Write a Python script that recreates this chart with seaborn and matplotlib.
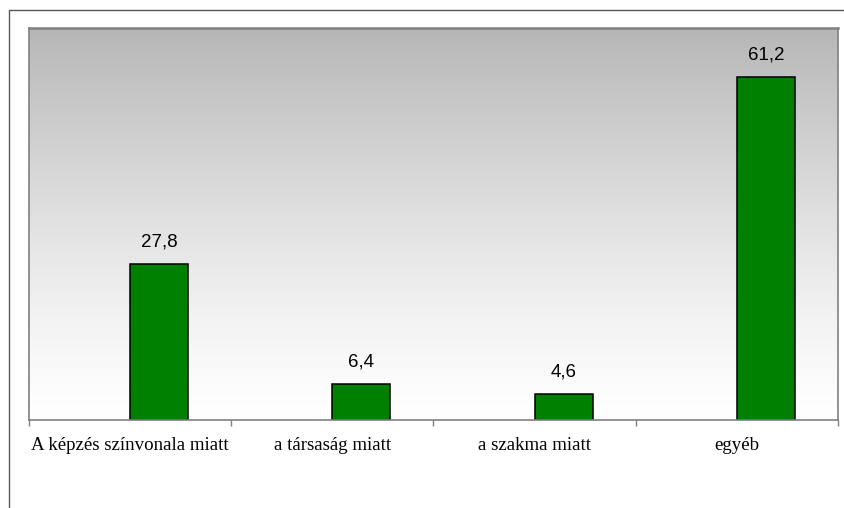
import numpy as np
import pandas as pd
import matplotlib
matplotlib.use("Agg")
import matplotlib.pyplot as plt
from matplotlib.lines import Line2D
import seaborn as sns

# Survey answers: reasons given (percent)
categories = ["A képzés színvonala miatt", "a társaság miatt", "a szakma miatt", "egyéb"]
values = [27.8, 6.4, 4.6, 61.2]
# the first series of the cluster is empty; only the second one carries data
series_names = ["1. sorozat", "2. sorozat"]
empty_series = [np.nan, np.nan, np.nan, np.nan]

df = pd.DataFrame({
    "kategoria": categories * 2,
    "ertek": empty_series + values,
    "sorozat": [series_names[0]] * 4 + [series_names[1]] * 4,
})

sns.set_theme(style="white")
plt.rcParams["font.family"] = ["Liberation Sans", "DejaVu Sans"]

W, H = 845, 508
fig = plt.figure(figsize=(W / 100, H / 100), dpi=100)
fig.patch.set_facecolor("white")

x0, x1, y0, y1 = 29, 838, 28, 420
ax = fig.add_axes([x0 / W, 1 - y1 / H, (x1 - x0) / W, (y1 - y0) / H])

sns.barplot(
    data=df, x="kategoria", y="ertek", hue="sorozat",
    order=categories, hue_order=series_names,
    palette=["#008000", "#008000"], saturation=1, width=0.574, dodge=True,
    edgecolor="black", linewidth=1.1, legend=False, ax=ax, zorder=3,
)

ax.set_xlim(-0.5, len(categories) - 0.5)
ax.set_ylim(0, 70)

# vertical gray-to-white background gradient
t = np.linspace(0, 1, 400)[:, None]  # 0 at bottom, 1 at top
shade = 1 - 0.285 * t ** 1.3
grad = np.dstack([shade, shade, shade])
ax.imshow(grad, origin="lower", aspect="auto",
          extent=[-0.5, len(categories) - 0.5, 0, 70], zorder=0,
          interpolation="bilinear")

# value labels above the data bars
for cont in ax.containers:
    heights = [p.get_height() for p in cont]
    if all(np.isnan(h) for h in heights):
        continue
    ax.bar_label(cont, labels=[f"{v:.1f}".replace(".", ",") for v in values],
                 padding=10, fontsize=13.5, color="black",
                 family=["Liberation Sans", "DejaVu Sans"])

# ticks at the category boundaries, labels centred in each category
ax.set_xticks(np.arange(-0.5, len(categories), 1.0))
ax.set_xticklabels([])
ax.set_xticks(np.arange(len(categories)), minor=True)
ax.set_xticklabels(categories, minor=True,
                   family=["Liberation Serif", "DejaVu Serif"], fontsize=13.6,
                   color="black")
ax.tick_params(axis="x", which="major", direction="out", length=4,
               width=1, color="#808080", bottom=True)
ax.tick_params(axis="x", which="minor", length=0, pad=12)
ax.set_yticks([])
ax.set_xlabel("")
ax.set_ylabel("")

for side in ["top", "left", "right", "bottom"]:
    ax.spines[side].set_visible(True)
    ax.spines[side].set_color("#808080")
    ax.spines[side].set_linewidth(1.2)
    ax.spines[side].set_zorder(4)
ax.spines["top"].set_linewidth(1.8)

# outer frame of the chart object (left and top edges)
fig.add_artist(Line2D([9 / W, 9 / W], [0, 1 - 10 / H], color="#5a5a5a", lw=1.0))
fig.add_artist(Line2D([9 / W, 1], [1 - 10 / H, 1 - 10 / H], color="#5a5a5a", lw=1.0))

fig.savefig("out.png", dpi=100, facecolor="white")
